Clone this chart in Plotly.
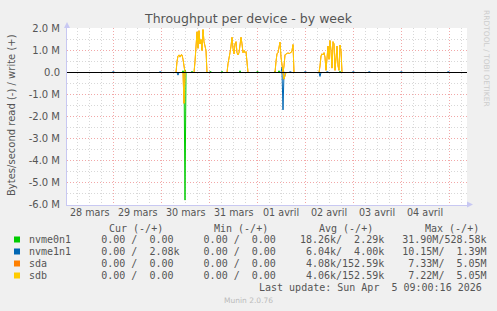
import pandas as pd
import plotly.graph_objects as go

# ---------------- data ----------------
START = "2026-03-28 01:00"
END = "2026-04-05 09:00"
STEP = "30min"

devices = ["nvme0n1", "nvme1n1", "sda", "sdb"]
colors = ["#00CC00", "#0066B3", "#FF8000", "#FFCC00"]

# non-zero bursts: (start time, values in bytes/s, one per 30 min); zero elsewhere
nvme0n1_read = [("2026-03-30 12:00", [5.8e6])]
nvme0n1_write = [("2026-03-30 11:00", [0.08e6]), ("2026-03-30 12:00", [0.12e6]),
                 ("2026-03-30 15:30", [0.06e6]), ("2026-03-31 00:30", [0.05e6]),
                 ("2026-03-31 06:30", [0.06e6]), ("2026-03-31 15:30", [0.08e6]),
                 ("2026-04-01 00:00", [0.05e6]), ("2026-04-01 09:00", [0.06e6]),
                 ("2026-04-01 11:00", [0.08e6]), ("2026-04-02 17:30", [0.06e6])]
nvme1n1_read = [("2026-03-30 08:30", [0.12e6]), ("2026-04-01 13:00", [1.7e6]),
                ("2026-04-02 07:30", [0.18e6])]
nvme1n1_write = [("2026-03-29 00:00", [0.04e6]), ("2026-03-29 23:30", [0.04e6]),
                 ("2026-04-01 12:30", [0.25e6, 0.15e6]), ("2026-04-01 16:30", [0.04e6]),
                 ("2026-04-02 00:00", [0.04e6]), ("2026-04-02 11:00", [0.04e6]),
                 ("2026-04-03 00:00", [0.04e6]), ("2026-04-03 08:00", [0.04e6]),
                 ("2026-04-04 00:00", [0.04e6]), ("2026-04-04 23:30", [0.04e6])]
sdb_read = [("2026-03-30 11:30", [1.4e6]), ("2026-04-01 13:30", [0.3e6, 0.15e6])]
sdb_write = [
    ("2026-03-30 08:00", [0.5e6, 0.75e6, 0.8e6, 0.7e6, 0.8e6, 0.8e6, 0.6e6, 0.2e6]),
    ("2026-03-30 17:00", [0.5e6, 1.3e6, 1.85e6, 1.1e6, 1.9e6, 1.3e6, 1.5e6, 1.0e6,
                          1.95e6, 1.4e6, 1.2e6, 1.0e6]),
    ("2026-03-31 09:30", [0.4e6, 0.8e6, 0.9e6, 1.2e6, 1.6e6, 1.1e6, 0.85e6, 1.3e6,
                          1.4e6, 0.9e6, 0.8e6, 0.9e6, 1.2e6, 1.6e6, 1.3e6, 0.9e6,
                          1.0e6, 0.9e6, 0.95e6, 0.5e6]),
    ("2026-04-01 09:30", [0.5e6, 0.85e6, 0.9e6, 1.2e6, 1.38e6, 0.7e6, 0.2e6, 0.0,
                          0.3e6, 0.8e6, 0.85e6, 0.85e6, 0.9e6, 0.85e6, 0.9e6, 0.9e6,
                          1.0e6, 1.27e6]),
    ("2026-04-02 07:30", [0.3e6, 0.75e6, 0.85e6, 0.8e6, 0.9e6, 0.7e6, 0.1e6, 0.9e6,
                          1.2e6, 0.6e6, 1.45e6, 1.0e6, 0.2e6, 1.4e6, 1.3e6, 0.1e6,
                          0.9e6, 1.2e6, 0.3e6, 0.1e6, 1.25e6, 1.0e6]),
]
sda_read = sdb_read
sda_write = sdb_write

y_ticks = [-6e6, -5e6, -4e6, -3e6, -2e6, -1e6, 0, 1e6, 2e6]
y_labels = ["-6.0 M", "-5.0 M", "-4.0 M", "-3.0 M", "-2.0 M", "-1.0 M", "0.0", "1.0 M", "2.0 M"]
day_labels = ["28 mars", "29 mars", "30 mars", "31 mars", "01 avril", "02 avril", "03 avril", "04 avril"]
day_dates = ["2026-03-28", "2026-03-29", "2026-03-30", "2026-03-31",
             "2026-04-01", "2026-04-02", "2026-04-03", "2026-04-04"]

legend_cur = ["  0.00 /  0.00 ", "  0.00 /  2.08k", "  0.00 /  0.00 ", "  0.00 /  0.00 "]
legend_min = ["  0.00 /  0.00 ", "  0.00 /  0.00 ", "  0.00 /  0.00 ", "  0.00 /  0.00 "]
legend_avg = [" 18.26k/  2.29k", "  6.04k/  4.00k", "  4.08k/152.59k", "  4.06k/152.59k"]
legend_max = [" 31.90M/528.58k", " 10.15M/  1.39M", "  7.33M/  5.05M", "  7.22M/  5.05M"]

# ---------------- build ----------------
times = pd.date_range(START, END, freq=STEP)


def series(bursts, sign):
    s = pd.Series(0.0, index=times)
    for t, vals in bursts:
        idx = pd.date_range(t, periods=len(vals), freq=STEP)
        s.loc[idx] = vals
    return s * sign


reads = [nvme0n1_read, nvme1n1_read, sda_read, sdb_read]
writes = [nvme0n1_write, nvme1n1_write, sda_write, sdb_write]

W, H = 497, 311
L, R, T, B = 67, 30, 28, 106
PW, PH = W - L - R, H - T - B          # 400 x 177
BOTTOM = H - B                         # 205
Y_MIN, Y_MAX = -6e6, 2e6
HALF_PX = 0.5 * (Y_MAX - Y_MIN) / (PH - 1)   # half a pixel in data units (22 px per 1 M)


def px(x):
    return (x - L) / PW


def py(y):
    return (BOTTOM - y) / PH


fig = go.Figure()
for name, col, rd, wr in zip(devices, colors, reads, writes):
    for data, sign in ((rd, -1), (wr, 1)):
        s = series(data, sign)
        fig.add_trace(go.Scatter(x=s.index, y=s.values, mode="lines",
                                 line=dict(color=col, width=1), showlegend=False,
                                 hoverinfo="skip"))

TXT = "#555555"
SANS = "DejaVu Sans"
MONO = "DejaVu Sans Mono"
NB = "\u00a0"

ann = []
ann.append(dict(text="Throughput per device - by week", x=px(W / 2), y=py(19),
                xref="paper", yref="paper", showarrow=False,
                font=dict(family=SANS, size=12.5, color=TXT), xanchor="center", yanchor="middle"))
ann.append(dict(text="Bytes/second read (-) / write (+)", x=px(11), y=py(115),
                xref="paper", yref="paper", showarrow=False, textangle=-90,
                font=dict(family=SANS, size=10, color=TXT), xanchor="center", yanchor="middle"))
for d, lab in zip(day_dates, day_labels):
    ann.append(dict(text=lab, x=pd.Timestamp(d) + pd.Timedelta(hours=12), y=py(212),
                    xref="x", yref="paper", showarrow=False,
                    font=dict(family=SANS, size=9.6, color=TXT), xanchor="center", yanchor="middle"))
for lab, xx in zip(["Cur (-/+)", "Min (-/+)", "Avg (-/+)", "Max (-/+)"], [107.3, 212.3, 317.3, 422.7]):
    ann.append(dict(text=lab.replace(" ", NB), x=px(xx), y=py(228), xref="paper", yref="paper",
                    showarrow=False, font=dict(family=MONO, size=10, color=TXT),
                    xanchor="left", yanchor="middle"))
row_y = [239.5, 251.5, 263.5, 275.5]
shapes = []
for i, name in enumerate(devices):
    line = name.ljust(10) + legend_cur[i] + "  " + legend_min[i] + "  " + legend_avg[i] + "  " + legend_max[i]
    ann.append(dict(text=line.replace(" ", NB), x=px(26.7), y=py(row_y[i]), xref="paper", yref="paper",
                    showarrow=False, font=dict(family=MONO, size=10, color=TXT),
                    xanchor="left", yanchor="middle"))
    shapes.append(dict(type="rect", xref="paper", yref="paper", x0=px(14), x1=px(20),
                       y0=py(row_y[i] + 3), y1=py(row_y[i] - 3), fillcolor=colors[i],
                       line=dict(width=0)))
ann.append(dict(text="Last update: Sun Apr  5 09:00:16 2026".replace(" ", NB), x=px(483.5), y=py(287.5),
                xref="paper", yref="paper", showarrow=False,
                font=dict(family=MONO, size=10, color=TXT), xanchor="right", yanchor="middle"))
ann.append(dict(text="Munin 2.0.76", x=px(248.5), y=py(300.5), xref="paper", yref="paper",
                showarrow=False, font=dict(family=SANS, size=7.5, color="#BBBBBB"),
                xanchor="center", yanchor="middle"))
ann.append(dict(text="RRDTOOL / TOBI OETIKER", x=px(487), y=py(58), xref="paper", yref="paper",
                showarrow=False, textangle=90, font=dict(family=SANS, size=7.5, color="#CCCCCC"),
                xanchor="center", yanchor="middle"))

shapes.append(dict(type="line", xref="paper", yref="y", x0=0, x1=1, y0=0, y1=0,
                   line=dict(color="#000000", width=1), layer="above"))
AX = "#C8C8F2"
shapes.append(dict(type="path", xref="paper", yref="paper",
                   path=f"M {px(64)} {py(28)} L {px(70)} {py(28)} L {px(67)} {py(22)} Z",
                   fillcolor=AX, line=dict(width=0)))
shapes.append(dict(type="path", xref="paper", yref="paper",
                   path=f"M {px(467)} {py(201.5)} L {px(467)} {py(207.5)} L {px(473)} {py(204.5)} Z",
                   fillcolor=AX, line=dict(width=0)))

midnights = pd.date_range("2026-03-29", "2026-04-05", freq="D")

fig.update_layout(
    width=W, height=H,
    margin=dict(l=L, r=R, t=T, b=B),
    paper_bgcolor="#F0F0F0", plot_bgcolor="#FFFFFF",
    annotations=ann, shapes=shapes,
    xaxis=dict(range=[times[0], times[-1]], tickvals=list(midnights), showticklabels=False,
               ticks="", showgrid=True, gridcolor="#F2A8A8", griddash="1px,2px", gridwidth=1,
               minor=dict(dtick=6 * 3600 * 1000, tick0="2026-03-28 00:00", showgrid=True,
                          gridcolor="#D8D8D8", griddash="1px,2px", gridwidth=1),
               showline=True, linecolor=AX, linewidth=1, zeroline=False, fixedrange=True),
    yaxis=dict(range=[Y_MIN - HALF_PX, Y_MAX + HALF_PX], tickvals=y_ticks, ticktext=y_labels, ticks="",
               ticklabelstandoff=4,
               tickfont=dict(family=SANS, size=10, color=TXT),
               showgrid=True, gridcolor="#F2A8A8", griddash="1px,2px", gridwidth=1,
               minor=dict(dtick=0.5e6, tick0=0, showgrid=True, gridcolor="#D8D8D8",
                          griddash="1px,2px", gridwidth=1),
               showline=True, linecolor=AX, linewidth=1, zeroline=False, fixedrange=True),
    font=dict(family=SANS, color=TXT),
)

fig.write_html("out.html")
